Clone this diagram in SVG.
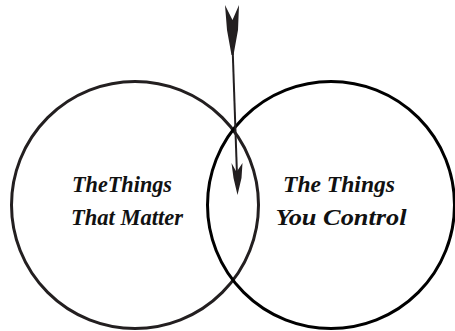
<svg xmlns="http://www.w3.org/2000/svg" width="455" height="331" viewBox="0 0 455 331">
<style>
.ring{fill:none;stroke-width:3}
.lbl{font-family:'Liberation Serif','DejaVu Serif',serif;font-style:italic;font-weight:bold;font-size:24px;fill:#111;text-anchor:middle}
.shaft{fill:none;stroke:#231f20;stroke-width:2}
.head{fill:#231f20}
</style>
<rect width="455" height="331" fill="#fff"/>
<g id="matter">
<circle class="ring" cx="135" cy="205" r="123.5" stroke="#231f20"/>
<text class="lbl" x="122" y="192" textLength="100" lengthAdjust="spacingAndGlyphs" style="word-spacing:-6px">The Things</text>
<text class="lbl" x="127" y="225" textLength="112" lengthAdjust="spacingAndGlyphs">That Matter</text>
</g>
<g id="control">
<circle class="ring" cx="331" cy="205" r="123.5" stroke="#000"/>
<text class="lbl" x="339" y="192" textLength="112" lengthAdjust="spacingAndGlyphs">The Things</text>
<text class="lbl" x="341" y="225" textLength="131" lengthAdjust="spacingAndGlyphs">You Control</text>
</g>
<g id="connectors">
<path class="shaft" d="M232.5 45 L237 175"/>
<path class="head" d="M225 5 L232.5 20 L239 5 L238 30 L233.5 55 L231.5 55 L227 30 Z"/>
<path class="head" d="M231.5 163 L236.5 172 L242.5 163 L241.5 178 L237.5 195 L233.5 178 Z"/>
</g>
</svg>
